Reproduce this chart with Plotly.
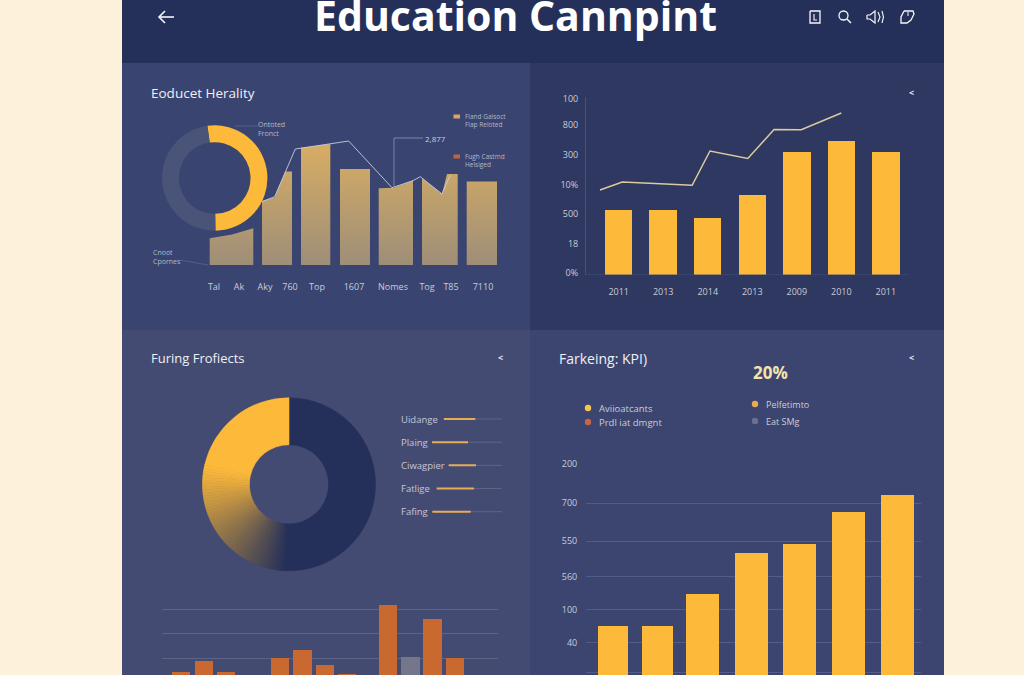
import plotly.graph_objects as go

W, H = 1024, 675

# ---- data ----
title_text = "Education Cannpint"

# Upper-left panel: shaped columns, each a run of (x, y) readings
area_x = [
    [0.97, 3.2, 5.33],
    [6.2, 7.47, 8.53, 9.2],
    [10.1, 13.03],
    [14.0, 17.0],
    [17.87, 19.37, 21.3],
    [22.2, 24.2, 24.7, 25.77],
    [26.67, 29.7],
]
area_y = [
    [18.4, 21.1, 25.3],
    [44.1, 46.7, 64.4, 64.4],
    [80.9, 83.4],
    [66.2, 66.2],
    [52.9, 53.3, 58.2],
    [59.8, 49.0, 62.8, 62.8],
    [57.5, 57.5],
]
trend_x = [6.2, 7.47, 9.53, 13.03, 14.87, 19.2, 21.3, 22.03, 24.2, 25.03]
trend_y = [43.7, 47.1, 80.0, 83.4, 85.5, 53.3, 58.2, 60.9, 49.0, 62.1]
ul_tick_pos = [1.4, 3.9, 6.5, 9.0, 11.7, 15.4, 19.3, 22.7, 25.1, 28.3]
ul_ticks = ["Tal", "Ak", "Aky", "760", "Top", "1607", "Nomes", "Tog", "T85", "7110"]
ring_values = [52, 48]

# Upper-right panel
ur_years = ["2011", "2013", "2014", "2013", "2009", "2010", "2011"]
ur_bars = [220, 220, 193, 271, 417, 454, 417]
ur_line_x = [-0.42, 0.08, 1.65, 2.05, 2.9, 3.49, 4.1, 5.0]
ur_line_y = [288, 315, 304, 420, 395, 493, 492, 549]
ur_y_ticks = ["0%", "18", "500", "10%", "300", "800", "100"]

# Lower-left panel
donut_dark = 51.0
donut_gold = 49.0
row_labels = ["Uidange", "Plaing", "Ciwagpier", "Fatlige", "Fafing"]
row_start = [43.0, 31.4, 47.7, 36.0, 31.7]
row_end = [73.8, 66.7, 74.5, 72.5, 69.3]
ll_bar_x = [0, 1.01, 2, 4.39, 5.4, 6.4, 7.36, 9.18, 10.2, 11.16, 12.16]
ll_bar_y = [45, 89, 45, 100, 133, 73, 36, 318, 105, 262, 100]
ll_bar_is_grey = [0, 0, 0, 0, 0, 0, 0, 0, 1, 0, 0]

# Lower-right panel
lr_x = [0, 0.94, 1.89, 2.92, 3.94, 4.97, 6]
lr_y = [137, 137, 228, 341, 367, 457, 506]
lr_width = [0.65, 0.64, 0.68, 0.7, 0.7, 0.7, 0.7]
lr_tick_pos = [592, 483, 376, 276, 184, 90, 6]
lr_ticks = ["200", "700", "550", "560", "100", "40", "-"]

# ---- palette ----
CREAM = "#fdf1dc"
HEADER = "#25305a"
GOLD = "#fdb93a"
ORANGE = "#c9682f"
GREY_BAR = "#74778a"
TXT = "#c9ccd9"
WHITE = "#f6f6f8"
FONT = "Open Sans"


def fx(px):
    return px / W


def fy(py):
    return 1 - py / H


def dom_x(a, b):
    return [fx(a), fx(b)]


def dom_y(top, bottom):
    return [fy(bottom), fy(top)]


def lerp_hex(a, b, t):
    ca = [int(a[i:i + 2], 16) for i in (1, 3, 5)]
    cb = [int(b[i:i + 2], 16) for i in (1, 3, 5)]
    return "#" + "".join(f"{round(p + (q - p) * t):02x}" for p, q in zip(ca, cb))


shapes = []
annotations = []


def rect(x0, y0, x1, y1, color):
    shapes.append(dict(type="rect", xref="paper", yref="paper", x0=fx(x0), x1=fx(x1),
                       y0=fy(y1), y1=fy(y0), fillcolor=color, line_width=0, layer="below"))


def seg(points, color, width=1.0):
    d = "M" + " L".join(f"{fx(a):.5f},{fy(b):.5f}" for a, b in points)
    shapes.append(dict(type="path", xref="paper", yref="paper", path=d,
                       line=dict(color=color, width=width), layer="above"))


def glyph(x0, y0, x1, y1, color):
    shapes.append(dict(type="rect", xref="paper", yref="paper", x0=fx(x0), x1=fx(x1),
                       y0=fy(y1), y1=fy(y0), fillcolor=color, line_width=0, layer="above"))


def dot(cx, cy, r, color):
    shapes.append(dict(type="circle", xref="paper", yref="paper", x0=fx(cx - r), x1=fx(cx + r),
                       y0=fy(cy + r), y1=fy(cy - r), fillcolor=color, line_width=0, layer="above"))


def circle(cx, cy, r, color, width=1.3):
    shapes.append(dict(type="circle", xref="paper", yref="paper", x0=fx(cx - r), x1=fx(cx + r),
                       y0=fy(cy + r), y1=fy(cy - r), line=dict(color=color, width=width), layer="above"))


def note(x, y, text, size=9, color=TXT, anchor="left", bold=False):
    annotations.append(dict(x=fx(x), y=fy(y), xref="paper", yref="paper", text=f"<b>{text}</b>" if bold else text,
                            showarrow=False, xanchor=anchor, yanchor="middle", align="left",
                            borderpad=0, font=dict(family=FONT, size=size, color=color)))


# ---- panels ----
rect(0, 0, W, H, CREAM)
rect(122, 0, 944, 63, HEADER)
rect(122, 63, 530, 330, "#3a4470")
rect(530, 63, 944, 330, "#2e3860")
rect(122, 330, 530, 675, "#444b73")
rect(530, 330, 944, 675, "#3c4570")

# ---- header ----
note(515, 15, title_text, 41, "#ffffff", "center", True)
seg([(159, 17), (174, 17)], WHITE, 1.6)
seg([(165, 11), (159, 17), (165, 23)], WHITE, 1.6)
seg([(810, 11), (820, 11), (820, 23), (810, 23), (810, 11)], WHITE, 1.3)
seg([(814, 14), (814, 20), (817, 20)], WHITE, 1.1)
circle(843.5, 15.5, 4.5, WHITE)
seg([(847, 19), (851, 23)], WHITE, 1.5)
seg([(867, 15), (870, 15), (875, 11), (875, 23), (870, 19), (867, 19), (867, 15)], WHITE, 1.2)
seg([(878, 12), (880, 17), (878, 22)], WHITE, 1.1)
seg([(882, 11), (883.5, 17), (882, 23)], WHITE, 1.1)
seg([(904, 11), (913, 11), (914, 14), (911, 20), (907, 23), (901, 23), (901, 17), (904, 11)], WHITE, 1.3)
seg([(908, 12), (908, 16)], WHITE, 1.0)

fig = go.Figure()

# ---- upper-left chart ----
for xs, ys in zip(area_x, area_y):
    fig.add_trace(go.Scatter(
        x=[xs[0]] + xs + [xs[-1], xs[0]], y=[0] + ys + [0, 0],
        mode="lines", line=dict(width=0), fill="toself",
        fillgradient=dict(type="vertical", start=0, stop=85,
                          colorscale=[[0, "#9e8e78"], [1, "#d9ae63"]]),
        xaxis="x", yaxis="y", hoverinfo="skip", showlegend=False))
fig.add_trace(go.Scatter(x=trend_x, y=trend_y, mode="lines", line=dict(color="#c7cce0", width=0.9),
                         xaxis="x", yaxis="y", hoverinfo="skip", showlegend=False))
fig.add_trace(go.Pie(values=ring_values, hole=0.68, sort=False, direction="clockwise", rotation=-8,
                     marker=dict(colors=[GOLD, "#4a5378"], line=dict(width=0)), textinfo="none",
                     domain=dict(x=dom_x(162, 267.4), y=dom_y(125.3, 230.7)), hoverinfo="skip", showlegend=False))

note(150, 93, "Eoducet Herality", 13.5, "#eef0f5")
note(257, 128.5, "Ontoted<br>Fronct", 7, "#b4b8ca")
note(152, 257, "Cnoot<br>Cpornes", 7, "#b4b8ca")
note(424, 138, "2,877", 8)
note(464, 120, "Fland Galsoct<br>Flap Reloted", 6.5, "#b4b8ca")
note(464, 160, "Fugh Castmd<br>Helsiged", 6.5, "#b4b8ca")
seg([(235, 126), (257, 126)], "#5d6588", 0.8)
seg([(180, 260), (208, 265)], "#5d6588", 0.8)
seg([(423, 138), (394, 138), (394, 188)], "#8f96b3", 0.8)
glyph(453.5, 114.5, 460, 118.5, "#dca662")
glyph(453.5, 154.5, 460, 158.5, "#c2623c")

# ---- upper-right chart ----
fig.add_trace(go.Bar(x=list(range(len(ur_bars))), y=ur_bars, width=0.617, marker=dict(color=GOLD, line_width=0),
                     xaxis="x2", yaxis="y2", hoverinfo="skip", showlegend=False))
fig.add_trace(go.Scatter(x=ur_line_x, y=ur_line_y, mode="lines", line=dict(color="#dccb9e", width=1.5),
                         xaxis="x2", yaxis="y2", hoverinfo="skip", showlegend=False))
note(911, 92, "&lt;", 9, "#e4e6ee", "center", True)

# ---- lower-left chart ----
# the gold share fades into the dark share through many thin slices
dark_tone = "#25305a"
fade_steps = 48
fade_part = 0.563
gold_bands = [fade_part / fade_steps] * fade_steps + [1 - fade_part]
band_colors = [lerp_hex(dark_tone, GOLD, (i + 1) / fade_steps) for i in range(fade_steps)] + [GOLD]
donut_values = [donut_dark] + [donut_gold * b for b in gold_bands]
donut_colors = [dark_tone] + band_colors
fig.add_trace(go.Pie(values=donut_values, hole=0.458, sort=False, direction="clockwise", rotation=0,
                     marker=dict(colors=donut_colors, line=dict(color=donut_colors, width=0.6)), textinfo="none",
                     domain=dict(x=dom_x(202.5, 375.5), y=dom_y(397.8, 570.8)), hoverinfo="skip", showlegend=False))

track_x, track_y, value_x, value_y = [], [], [], []
for i, (a, b) in enumerate(zip(row_start, row_end)):
    track_x += [a, 100, None]
    track_y += [i, i, None]
    value_x += [a, b, None]
    value_y += [i, i, None]
fig.add_trace(go.Scatter(x=track_x, y=track_y, mode="lines", line=dict(color="#5e6589", width=1),
                         xaxis="x3", yaxis="y3", hoverinfo="skip", showlegend=False))
fig.add_trace(go.Scatter(x=value_x, y=value_y, mode="lines", line=dict(color="#e7ad55", width=2),
                         xaxis="x3", yaxis="y3", hoverinfo="skip", showlegend=False))
for label, py in zip(row_labels, [419, 442, 465, 488.7, 511.7]):
    note(400, py, label, 9.5, "#c4c7d6")

fig.add_trace(go.Bar(x=ll_bar_x, y=ll_bar_y, width=0.82,
                     marker=dict(color=[GREY_BAR if g else ORANGE for g in ll_bar_is_grey], line_width=0),
                     xaxis="x4", yaxis="y4", hoverinfo="skip", showlegend=False))
note(150, 358, "Furing Frofiects", 13, "#eef0f5")
note(500, 357, "&lt;", 9, "#e4e6ee", "center", True)

# ---- lower-right chart ----
fig.add_trace(go.Bar(x=lr_x, y=lr_y, width=lr_width, marker=dict(color=GOLD, line_width=0),
                     xaxis="x5", yaxis="y5", hoverinfo="skip", showlegend=False))
note(558, 358, "Farkeing: KPI)", 14, "#eef0f5")
note(911, 357, "&lt;", 9, "#e4e6ee", "center", True)
note(770, 372, "20%", 17, "#f5e3ae", "center", True)
dot(588, 408, 3.2, "#f3c64d")
dot(588, 422, 3.2, "#c96544")
dot(755, 404, 3.2, "#e8ab52")
dot(755, 421, 3.2, "#6a7190")
note(598, 408.5, "Aviioatcants", 9.5)
note(598, 422.5, "Prdl iat dmgnt", 9.5)
note(765, 404.5, "Pelfetimto", 9)
note(765, 421.5, "Eat SMg", 9)

hidden = dict(showgrid=False, zeroline=False, showticklabels=False, ticks="", showline=False,
              fixedrange=True, automargin=False)
tick_font = dict(family=FONT, size=9, color=TXT)

fig.update_layout(
    width=W, height=H, margin=dict(l=0, r=0, t=0, b=0, pad=0), autosize=False,
    paper_bgcolor=CREAM, plot_bgcolor="rgba(0,0,0,0)", shapes=shapes, annotations=annotations,
    bargap=0, showlegend=False,
    xaxis=dict(domain=dom_x(200, 505), range=[0, 30.5], zeroline=False, showgrid=False, showline=False,
               tickmode="array", tickvals=ul_tick_pos, ticktext=ul_ticks, tickfont=tick_font,
               ticks="outside", ticklen=13, tickcolor="rgba(0,0,0,0)", fixedrange=True, automargin=False),
    yaxis=dict(domain=dom_y(120, 265), range=[0, 100], **hidden),
    xaxis2=dict(domain=dom_x(586, 909), range=[-0.734, 6.52], zeroline=False, showgrid=False, showline=False,
                tickmode="array", tickvals=list(range(len(ur_years))), ticktext=ur_years, tickfont=tick_font,
                ticks="outside", ticklen=8, tickcolor="rgba(0,0,0,0)", fixedrange=True, anchor="y2",
                automargin=False),
    yaxis2=dict(domain=dom_y(97, 275), range=[0, 603], zeroline=False, showgrid=False, showline=True,
                linecolor="#465078", linewidth=1, tickmode="array", tickvals=[7, 107, 207, 307, 407, 507, 597],
                ticktext=ur_y_ticks, tickfont=tick_font, ticks="outside", ticklen=5,
                tickcolor="rgba(0,0,0,0)", fixedrange=True, anchor="x2", automargin=False),
    xaxis3=dict(domain=dom_x(400, 502.5), range=[0, 100.5], anchor="y3", **hidden),
    yaxis3=dict(domain=dom_y(410, 520.7), range=[4.388, -0.388], anchor="x3", **hidden),
    xaxis4=dict(domain=dom_x(162, 498), range=[-0.854, 14.08], anchor="y4", **hidden),
    yaxis4=dict(domain=dom_y(600, 675), range=[32, 338], anchor="x4", zeroline=False, showline=False,
                showgrid=True, gridcolor="#5d6488", gridwidth=1, tickmode="array", tickvals=[100, 200, 300],
                showticklabels=False, ticks="", fixedrange=True, automargin=False),
    xaxis5=dict(domain=dom_x(586, 921), range=[-0.57, 6.5], anchor="y5", **hidden),
    yaxis5=dict(domain=dom_y(464.3, 675), range=[0, 592], anchor="x5", zeroline=False, showline=False,
                showgrid=True, gridcolor="#535c86", gridwidth=1, tickmode="array", tickvals=lr_tick_pos,
                ticktext=lr_ticks, tickfont=tick_font, ticks="outside", ticklen=6,
                tickcolor="rgba(0,0,0,0)", fixedrange=True, automargin=False),
)

# the x axis of the upper-right chart carries a thin baseline
fig.add_shape(type="line", xref="x2", yref="y2", x0=-0.734, x1=6.52, y0=0, y1=0,
              line=dict(color="#465078", width=1), layer="above")

fig.write_html("out.html", config=dict(displayModeBar=False))
